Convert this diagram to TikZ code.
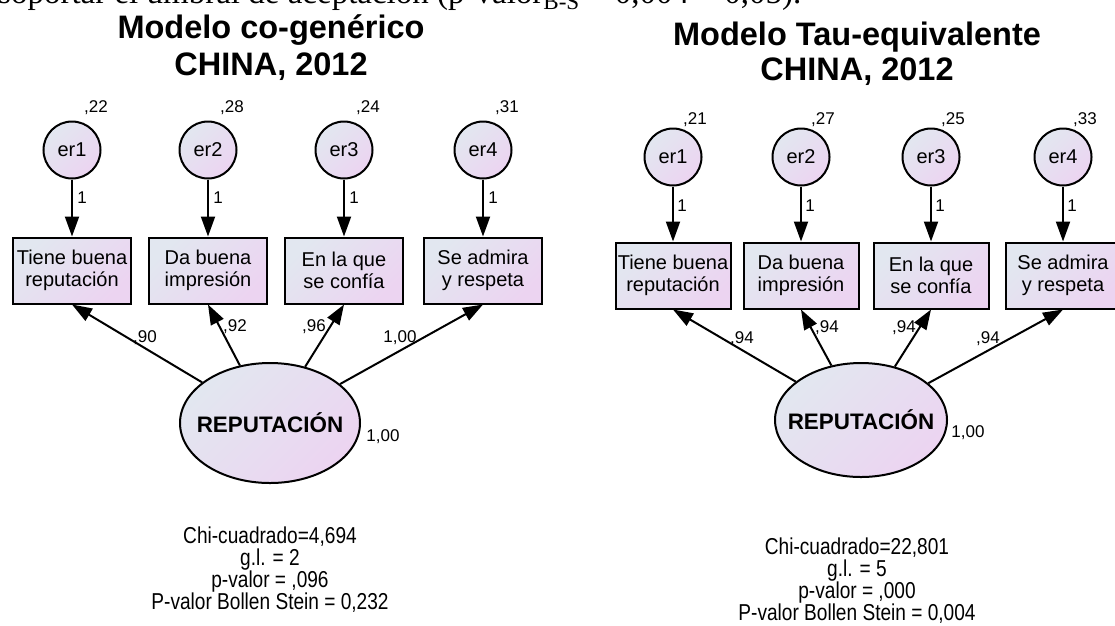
\documentclass[tikz,border=0pt]{standalone}
\usepackage{fontspec}
\setmainfont{Liberation Sans}
\newfontfamily\serifcut{Liberation Serif}
\newfontfamily\narrowsans[FakeStretch=0.83]{Liberation Sans}
\usetikzlibrary{arrows.meta,shapes.geometric}

\definecolor{shadeA}{RGB}{226,231,240}
\definecolor{shadeB}{RGB}{236,212,241}

\tikzset{
  gradfill/.style={top color=shadeA, bottom color=shadeB, shading angle=45},
  errvar/.style={circle, draw, line width=2pt, minimum size=57pt, inner sep=0pt,
    gradfill, font=\fontsize{20}{22}\selectfont},
  obsvar/.style={rectangle, draw, line width=2pt, minimum height=66pt, inner sep=0pt,
    align=center, gradfill, font=\fontsize{20}{22}\selectfont},
  latvar/.style={ellipse, draw, line width=2pt, inner sep=0pt,
    gradfill, font=\bfseries\fontsize{22.4}{24}\selectfont},
  arr/.style={line width=2pt, -{Triangle[length=20pt,width=14pt]}},
  est/.style={inner sep=0pt, font=\fontsize{17}{19}\selectfont},
  ttl/.style={anchor=base, inner sep=0pt, font=\bfseries\fontsize{32.5}{36}\selectfont},
  stats/.style={align=center, inner sep=0pt, font=\narrowsans\fontsize{23}{22}\selectfont},
}

\begin{document}
\begin{tikzpicture}[x=1pt, y=-1pt]
\useasboundingbox (0,0) rectangle (1115,625);

% partial line of running text at the upper edge
\begin{scope}
  \clip (0,0) rectangle (1115,625);
  \node[anchor=base west, inner sep=0pt, font=\serifcut\fontsize{33}{36}\selectfont]
    (runtext) at (-2,3) {soportar el umbral de aceptación (p-valor\textsubscript{B-S} = 0,004 < 0,05).};
\end{scope}

% ---------------- congeneric model ----------------
\node[ttl] (t1a) at (271,38) {Modelo co-genérico};
\node[ttl] (t1b) at (271,75) {CHINA, 2012};

\foreach \i/\x/\v in {1/72/22, 2/208/28, 3/344/24, 4/483/31} {
  \node[errvar] (le\i) at (\x,150) {er\i};
  \node[est, anchor=center] (lev\i) at (\x+24,108) {,\v};
}
\node[obsvar, minimum width=118pt] (lb1) at (72,270.5)  {Tiene buena\\reputación};
\node[obsvar, minimum width=118pt] (lb2) at (208,270.5) {Da buena\\impresión};
\node[obsvar, minimum width=118pt] (lb3) at (344,270.5) {En la que\\se confía};
\node[obsvar, minimum width=118pt] (lb4) at (483,270.5) {Se admira\\y respeta};

\foreach \i/\x in {1/72, 2/208, 3/344, 4/483} {
  \draw[arr] (le\i) -- (lb\i);
  \node[est] (lone\i) at (\x+10,198) {1};
}

\node[latvar, minimum width=180pt, minimum height=120pt] (lF) at (270,423) {\makebox[0pt][c]{REPUTACIÓN}};
\node[est] (lFv) at (383,437) {1,00};

\foreach \i in {1,...,4} { \draw[arr] (lF) -- (lb\i.south); }
\node[est] (lw1) at (145,338) {,90};
\node[est] (lw2) at (235,327) {,92};
\node[est] (lw3) at (314,327) {,96};
\node[est] (lw4) at (400,338) {1,00};

\node[stats] (lstat) at (270,570) {Chi-cuadrado=4,694\\g.l. = 2\\p-valor = ,096\\P-valor Bollen Stein = 0,232};

% ---------------- tau-equivalent model ----------------
\node[ttl] (t2a) at (857,45) {Modelo Tau-equivalente};
\node[ttl] (t2b) at (857,80) {CHINA, 2012};

\foreach \i/\x/\v in {1/673/21, 2/801/27, 3/931/25, 4/1063/33} {
  \node[errvar] (re\i) at (\x,157) {er\i};
  \node[est, anchor=center] (rev\i) at (\x+22,120) {,\v};
}
\node[obsvar, minimum width=115pt] (rb1) at (673,275.5)  {Tiene buena\\reputación};
\node[obsvar, minimum width=115pt] (rb2) at (801,275.5)  {Da buena\\impresión};
\node[obsvar, minimum width=115pt] (rb3) at (931,275.5)  {En la que\\se confía};
\node[obsvar, minimum width=115pt] (rb4) at (1063,275.5) {Se admira\\y respeta};

\foreach \i/\x in {1/673, 2/801, 3/931, 4/1063} {
  \draw[arr] (re\i) -- (rb\i);
  \node[est] (rone\i) at (\x+9,206) {1};
}

\node[latvar, minimum width=172pt, minimum height=114pt] (rF) at (861,420) {\makebox[0pt][c]{REPUTACIÓN}};
\node[est] (rFv) at (968,433) {1,00};

\foreach \i in {1,...,4} { \draw[arr] (rF) -- (rb\i.south); }
\node[est] (rw1) at (742,339) {,94};
\node[est] (rw2) at (827,328) {,94};
\node[est] (rw3) at (904,328) {,94};
\node[est] (rw4) at (988,339) {,94};

\node[stats] (rstat) at (857,581) {Chi-cuadrado=22,801\\g.l. = 5\\p-valor = ,000\\P-valor Bollen Stein = 0,004};
\end{tikzpicture}
\end{document}
